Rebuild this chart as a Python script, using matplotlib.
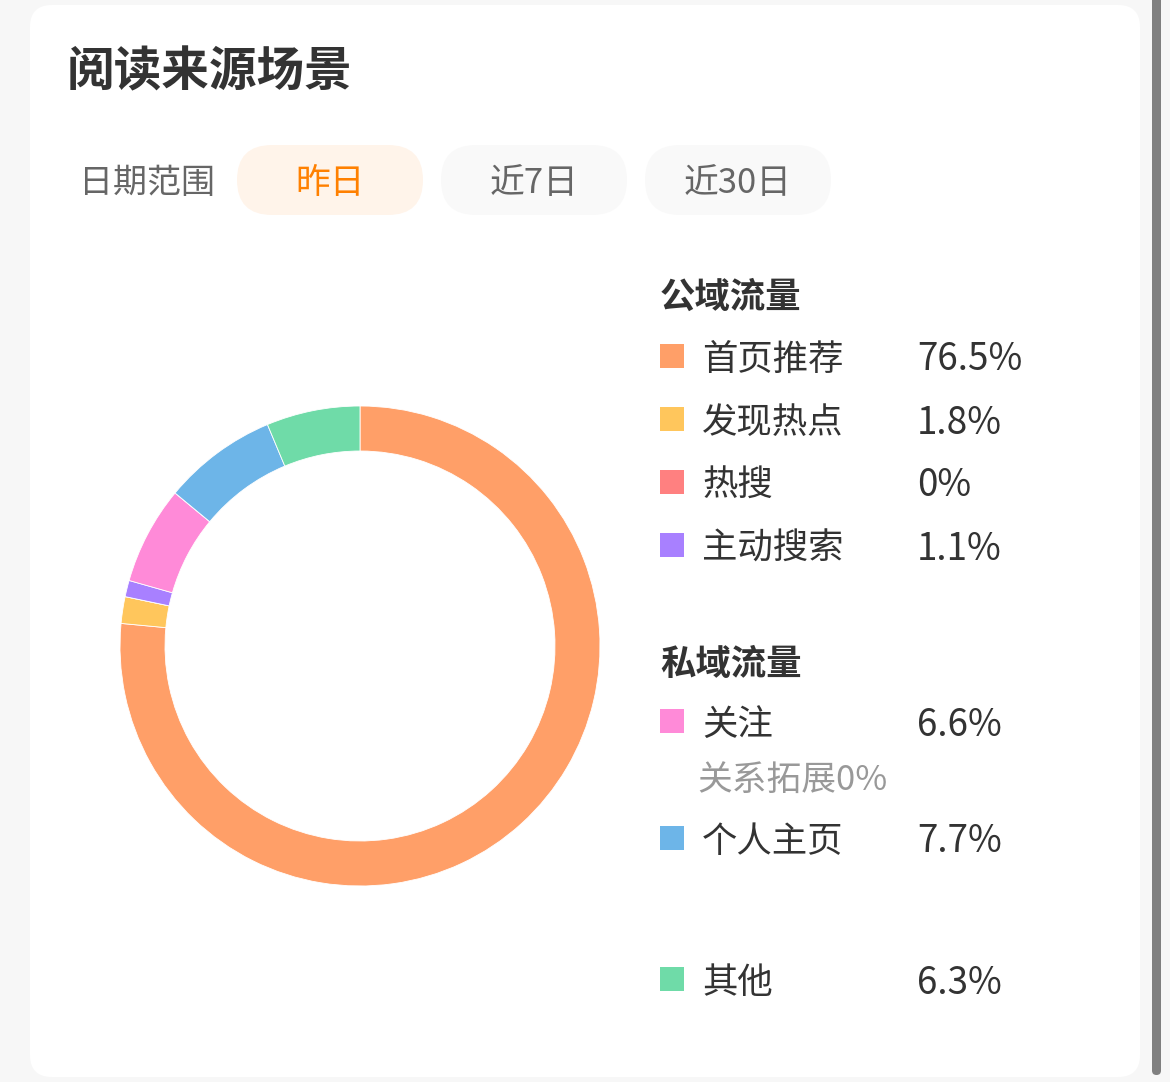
import matplotlib
matplotlib.use("Agg")
import matplotlib.pyplot as plt
from matplotlib.patches import FancyBboxPatch, Rectangle

plt.rcParams['font.family'] = ['Noto Sans CJK SC', 'DejaVu Sans']

# ---- data ----
title = "阅读来源场景"
date_label = "日期范围"
date_options = ["昨日", "近7日", "近30日"]
public_header = "公域流量"
private_header = "私域流量"
public_labels = ["首页推荐", "发现热点", "热搜", "主动搜索"]
public_values = [76.5, 1.8, 0.0, 1.1]
public_colors = ["#FF9F68", "#FFC65C", "#FF8080", "#A880FF"]
private_labels = ["关注", "个人主页"]
private_values = [6.6, 7.7]
private_colors = ["#FF8AD8", "#6DB5E8"]
sub_label = "关系拓展"
sub_value = 0.0
other_label = "其他"
other_value = 6.3
other_color = "#6FDBA8"

# pie order (clockwise from top)
pie_values = public_values + [private_values[0], sub_value, private_values[1], other_value]
pie_colors = public_colors + [private_colors[0], "#FFB3E6", private_colors[1], other_color]

W, H = 1170, 1082
fig = plt.figure(figsize=(W / 100, H / 100), dpi=100)
fig.patch.set_facecolor("#F7F7F7")

bg = fig.add_axes([0, 0, 1, 1])
bg.set_xlim(0, W)
bg.set_ylim(H, 0)
bg.axis("off")

DY = 4  # text baseline offset

# card
bg.add_patch(FancyBboxPatch((30, 5), 1110, 1072, boxstyle="round,pad=0,rounding_size=22",
                            facecolor="white", edgecolor="none"))
# scrollbar
bg.add_patch(FancyBboxPatch((1152, -10), 9, 1085, boxstyle="round,pad=0,rounding_size=4.5",
                            facecolor="#808080", edgecolor="none"))

# title
bg.text(67, 68 + DY, title, fontsize=34.3, fontweight="bold", color="#333333", va="center", ha="left")

# date range
bg.text(79, 180 + DY, date_label, fontsize=24.5, color="#666666", va="center", ha="left")
pill_x = [237, 441, 645]
for i, (x, lab) in enumerate(zip(pill_x, date_options)):
    active = i == 0
    bg.add_patch(FancyBboxPatch((x, 145), 186, 70, boxstyle="round,pad=0,rounding_size=35",
                                facecolor="#FFF4EA" if active else "#F9F9F9", edgecolor="none"))
    bg.text(x + 93, 180 + DY, lab, fontsize=25, color="#FF8000" if active else "#666666",
            va="center", ha="center", fontweight="medium" if active else "normal")

# legend
def item(y, label, value, color):
    bg.add_patch(Rectangle((660, y - 12), 24, 24, facecolor=color, edgecolor="none"))
    bg.text(702, y + DY, label, fontsize=25.5, color="#333333", va="center", ha="left")
    bg.text(917, y + DY, f"{value:g}%", fontsize=26.5, color="#333333", va="center", ha="left")

bg.text(660, 293 + DY, public_header, fontsize=25.5, fontweight="bold", color="#333333", va="center", ha="left")
for y, lab, v, c in zip([356, 419, 482, 545], public_labels, public_values, public_colors):
    item(y, lab, v, c)

bg.text(660, 660 + DY, private_header, fontsize=25.5, fontweight="bold", color="#333333", va="center", ha="left")
item(721, private_labels[0], private_values[0], private_colors[0])
bg.text(697, 776 + DY, f"{sub_label}{sub_value:g}%", fontsize=25, color="#999999", va="center", ha="left")
item(838, private_labels[1], private_values[1], private_colors[1])
item(979, other_label, other_value, other_color)

# donut
cx, cy, r = 360, 646, 240
pax = fig.add_axes([(cx - r) / W, (H - cy - r) / H, 2 * r / W, 2 * r / H])
pax.pie(pie_values, colors=pie_colors, startangle=90, counterclock=False, radius=1,
        wedgeprops=dict(width=45 / 240, edgecolor="white", linewidth=0.6))
pax.set_xlim(-1, 1)
pax.set_ylim(-1, 1)
pax.set_aspect("auto")
pax.axis("off")

fig.savefig("out.png", dpi=100, facecolor=fig.get_facecolor())
